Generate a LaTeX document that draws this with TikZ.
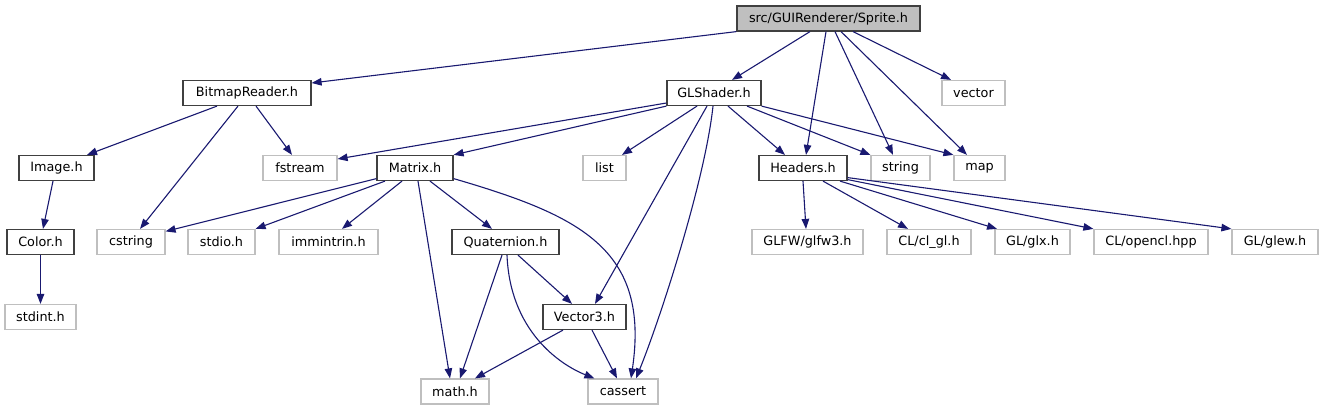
\documentclass[tikz,border=0pt]{standalone}
\usepackage{fontspec}
\setmainfont{DejaVu Sans}
\usetikzlibrary{arrows.meta,calc}
\definecolor{edgec}{HTML}{191970}
\definecolor{darkc}{HTML}{404040}
\definecolor{lightc}{HTML}{BFBFBF}
\begin{document}
\begin{tikzpicture}[x=1pt,y=-1pt,
  box/.style={draw=darkc, line width=1.2pt, minimum height=25pt, inner sep=0pt, font=\fontsize{12.8}{15}\selectfont, fill=white},
  ext/.style={box, draw=lightc},
  cur/.style={box, fill=lightc},
  dep/.style={draw=edgec, line width=1.1pt, -{Triangle[length=10pt,width=7.5pt]}}]
\useasboundingbox (0,0) rectangle (1323,411);
% row 0
\node[cur, minimum width=183pt] (sprite) at (828.5,18.5) {src/GUIRenderer/Sprite.h};
% row 1
\node[box, minimum width=128pt] (bitmap) at (247,93) {BitmapReader.h};
\node[box, minimum width=94pt] (glshader) at (714,93) {GLShader.h};
\node[ext, minimum width=63pt] (vector) at (973.5,93) {vector};
% row 2
\node[box, minimum width=75pt] (image) at (56.5,168) {Image.h};
\node[ext, minimum width=74pt] (fstream) at (300,168) {fstream};
\node[box, minimum width=76pt] (matrix) at (415,168) {Matrix.h};
\node[ext, minimum width=43pt] (list) at (604.5,168) {list};
\node[box, minimum width=88pt] (headers) at (803,168) {Headers.h};
\node[ext, minimum width=59pt] (string) at (900.5,168) {string};
\node[ext, minimum width=51pt] (map) at (979.5,168) {map};
% row 3
\node[box, minimum width=67pt] (color) at (40.5,242) {Color.h};
\node[ext, minimum width=68pt] (cstring) at (131,242) {cstring};
\node[ext, minimum width=67pt] (stdio) at (221.5,242) {stdio.h};
\node[ext, minimum width=99pt] (immintrin) at (328.5,242) {immintrin.h};
\node[box, minimum width=107pt] (quaternion) at (505.5,242) {Quaternion.h};
\node[ext, minimum width=111pt] (glfw) at (807.5,242) {GLFW/glfw3.h};
\node[ext, minimum width=84pt] (clgl) at (929,242) {CL/cl\_gl.h};
\node[ext, minimum width=75pt] (glx) at (1032.5,242) {GL/glx.h};
\node[ext, minimum width=114pt] (opencl) at (1151,242) {CL/opencl.hpp};
\node[ext, minimum width=86pt] (glew) at (1275,242) {GL/glew.h};
% row 4
\node[ext, minimum width=71pt] (stdint) at (40.5,317) {stdint.h};
\node[box, minimum width=83pt] (vector3) at (584.5,317) {Vector3.h};
% row 5
\node[ext, minimum width=68pt] (math) at (455,391.5) {math.h};
\node[ext, minimum width=70pt] (cassert) at (623,391.5) {cassert};

% Sprite.h
\draw[dep] (sprite.south west) -- ($(bitmap.east)+(0,-10)$);
\draw[dep] ($(sprite.south)+(-18.5,0)$) -- ($(glshader.north)+(18,0)$);
\draw[dep] ($(sprite.south)+(-2.5,0)$) -- ($(headers.north)+(3,0)$);
\draw[dep] ($(sprite.south)+(6.5,0)$) -- ($(string.north)+(-7.5,0)$);
\draw[dep] ($(sprite.south)+(12.5,0)$) -- ($(map.north)+(-12.5,0)$);
\draw[dep] ($(sprite.south)+(24.5,0)$) -- ($(vector.north)+(-22.5,0)$);
% BitmapReader.h
\draw[dep] ($(bitmap.south)+(-30,0)$) -- ($(image.north)+(30.5,0)$);
\draw[dep] ($(bitmap.south)+(-9,0)$) -- ($(cstring.north)+(9,0)$);
\draw[dep] ($(bitmap.south)+(9,0)$) -- ($(fstream.north)+(-8,0)$);
% GLShader.h
\draw[dep] ($(glshader.west)+(0,10)$) -- ($(fstream.east)+(0,-9)$);
\draw[dep] (glshader.south west) -- (matrix.north east);
\draw[dep] ($(glshader.south)+(-17,0)$) -- ($(list.north)+(17.5,0)$);
\draw[dep] ($(glshader.south)+(-7,0)$) -- ($(vector3.north)+(10.5,0)$);
\draw[dep] ($(glshader.south)+(-1,0)$) .. controls +(-8,75) and +(24,-59) .. ($(cassert.north)+(13,0)$);
\draw[dep] ($(glshader.south)+(14,0)$) -- ($(headers.north)+(-18,0)$);
\draw[dep] ($(glshader.south)+(33,0)$) -- (string.north west);
\draw[dep] (glshader.south east) -- (map.north west);
% Image.h, Color.h
\draw[dep] ($(image.south)+(-3.5,0)$) -- ($(color.north)+(2.5,0)$);
\draw[dep] (color.south) -- (stdint.north);
% Matrix.h
\draw[dep] ($(matrix.south west)+(0,-2.5)$) -- ($(cstring.north east)+(0,2.5)$);
\draw[dep] ($(matrix.south)+(-30,0)$) -- (stdio.north east);
\draw[dep] ($(matrix.south)+(-13,0)$) -- ($(immintrin.north)+(13.5,0)$);
\draw[dep] ($(matrix.south)+(3,0)$) -- ($(math.north)+(-5,0)$);
\draw[dep] ($(matrix.south)+(15,0)$) -- ($(quaternion.north)+(-13.5,0)$);
\draw[dep] ($(matrix.south east)+(0,-2.5)$) .. controls +(127,37) and +(19,-129) .. ($(cassert.north)+(8,0)$);
% Quaternion.h
\draw[dep] ($(quaternion.south)+(-3.5,0)$) -- ($(math.north)+(5,0)$);
\draw[dep] ($(quaternion.south)+(1.5,0)$) .. controls +(3,75.5) and +(-35,-14) .. ($(cassert.north west)+(7,0)$);
\draw[dep] ($(quaternion.south)+(12.5,0)$) -- ($(vector3.north)+(-12.5,0)$);
% Vector3.h
\draw[dep] ($(vector3.south)+(-21.5,0)$) -- ($(math.north)+(20,0)$);
\draw[dep] ($(vector3.south)+(7.5,0)$) -- ($(cassert.north)+(-6,0)$);
% Headers.h
\draw[dep] (headers.south) -- ($(glfw.north)+(-1.5,0)$);
\draw[dep] ($(headers.south)+(20,0)$) -- ($(clgl.north)+(-21,0)$);
\draw[dep] ($(headers.south)+(37,0)$) -- ($(glx.north)+(-35.5,0)$);
\draw[dep] ($(headers.south east)+(0,-1.5)$) -- (opencl.north west);
\draw[dep] ($(headers.south east)+(0,-3.5)$) -- (glew.north west);
\end{tikzpicture}
\end{document}
